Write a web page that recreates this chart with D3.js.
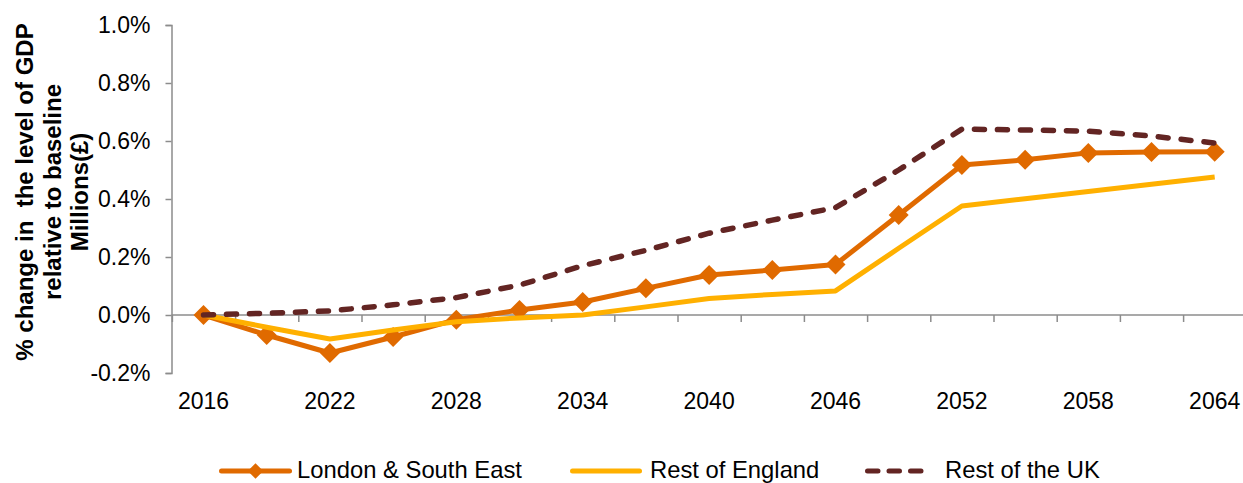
<!DOCTYPE html>
<html>
<head>
<meta charset="utf-8">
<script src="https://cdn.jsdelivr.net/npm/d3@7"></script>
<style>
  html, body { margin: 0; padding: 0; background: #fff; }
  svg { display: block; }
  text { font-family: "Liberation Sans", Arial, sans-serif; fill: #000; }
</style>
</head>
<body>
<svg id="chart" width="1243" height="483"></svg>
<script>
// ---- data ----
const years = [2016, 2019, 2022, 2025, 2028, 2031, 2034, 2037, 2040, 2043, 2046, 2049, 2052, 2055, 2058, 2061, 2064];
const yearLabels = ["2016", "2022", "2028", "2034", "2040", "2046", "2052", "2058", "2064"];
const londonSE = [0, -0.069, -0.131, -0.076, -0.016, 0.017, 0.045, 0.092, 0.138, 0.155, 0.174, 0.345, 0.517, 0.535, 0.559, 0.562, 0.563];
const restEngland = [0, -0.042, -0.083, -0.052, -0.023, -0.01, 0.0, 0.028, 0.057, 0.071, 0.083, 0.23, 0.376, 0.401, 0.426, 0.451, 0.476];
const restUK = [0, 0.006, 0.014, 0.035, 0.06, 0.103, 0.17, 0.223, 0.282, 0.327, 0.37, 0.5, 0.641, 0.638, 0.634, 0.617, 0.593];
const yTicks = [-0.2, 0.0, 0.2, 0.4, 0.6, 0.8, 1.0];
const seriesNames = ["London & South East", "Rest of England", "Rest of the UK"];
const yTitle = ["% change in  the level of GDP", "relative to baseline", "Millions(£)"];

// ---- layout ----
const svg = d3.select("#chart");
const axisX = 171.5;
const step = 63.2;
const x0 = axisX + 0.4;
const x = d3.scaleBand().domain(years).range([x0, x0 + step * years.length]).padding(0);
const cx = d => x(d) + x.bandwidth() / 2;
const y = d3.scaleLinear().domain([-0.2, 1.0]).range([373, 25]);
const axisColor = "#8c8c8c";
const fontFam = "'Liberation Sans', Arial, sans-serif";

const series = [
  { name: seriesNames[0], values: londonSE, color: "#E06A00", dash: null, marker: true, width: 5 },
  { name: seriesNames[1], values: restEngland, color: "#FFB000", dash: null, marker: false, width: 5 },
  { name: seriesNames[2], values: restUK, color: "#632523", dash: "10,13", marker: false, width: 5.5 }
];

// y axis
const yAxis = svg.append("g")
  .attr("transform", `translate(${axisX},0)`)
  .call(d3.axisLeft(y).tickValues(yTicks).tickSize(6).tickPadding(15)
    .tickFormat(d => d.toFixed(1).replace("\u2212", "-") + "%"));
yAxis.select(".domain").attr("stroke", axisColor).attr("stroke-width", 1.5);
yAxis.selectAll(".tick line").attr("stroke", axisColor).attr("stroke-width", 1.5);
yAxis.selectAll("text").style("font-size", "23px").style("font-family", fontFam).attr("fill", "#000");

// x axis line + boundary ticks at zero
const xi = d3.scaleLinear().domain([-0.5, years.length - 0.5]).range([x0, x0 + step * years.length]);
const xAxis = svg.append("g")
  .attr("transform", `translate(0,${y(0)})`)
  .call(d3.axisBottom(xi).tickValues(d3.range(years.length + 1).map(k => k - 0.5)).tickSize(7).tickSizeOuter(0).tickFormat(""));
xAxis.select(".domain").attr("stroke", axisColor).attr("stroke-width", 1.5)
  .attr("d", `M${axisX},0H${x0 + step * years.length}`);
xAxis.selectAll(".tick line").attr("stroke", axisColor).attr("stroke-width", 1.5);

// x labels (low position)
const xLab = svg.append("g")
  .attr("transform", `translate(0,390)`)
  .call(d3.axisBottom(x).tickValues(yearLabels.map(Number)).tickSize(0).tickPadding(3));
xLab.select(".domain").remove();
xLab.selectAll("text").style("font-size", "23px").style("font-family", fontFam).attr("fill", "#000");

// y title
const titleBaselines = [33, 61, 88];
const tg = svg.append("g");
yTitle.forEach((t, i) => {
  tg.append("text")
    .attr("transform", `translate(${titleBaselines[i]},192) rotate(-90)`)
    .attr("text-anchor", "middle")
    .attr("xml:space", "preserve")
    .style("white-space", "pre")
    .style("font-size", "24px")
    .style("font-weight", "bold")
    .text(t);
});

// lines
const line = d3.line().x((d, i) => cx(years[i])).y(d => y(d));
const diamond = d3.symbol().type(d3.symbolSquare);
series.forEach(s => {
  svg.append("path")
    .datum(s.values)
    .attr("d", line)
    .attr("fill", "none")
    .attr("stroke", s.color)
    .attr("stroke-width", s.width)
    .attr("stroke-linejoin", "round")
    .attr("stroke-linecap", s.dash ? "round" : "butt")
    .attr("stroke-dasharray", s.dash);
  if (s.marker) {
    svg.append("g").selectAll("path")
      .data(s.values)
      .join("path")
      .attr("d", diamond.size(200))
      .attr("transform", (d, i) => `translate(${cx(years[i])},${y(d)}) rotate(45)`)
      .attr("fill", s.color);
  }
});

// legend
const legendItems = [
  { x1: 219, x2: 292, tx: 297 },
  { x1: 570, x2: 642, tx: 650 },
  { x1: 865, x2: 928, tx: 945 }
];
const ly = 471;
series.forEach((s, i) => {
  const L = legendItems[i];
  svg.append("line")
    .attr("x1", L.x1 + 2.5).attr("x2", L.x2 - 2.5)
    .attr("y1", ly).attr("y2", ly)
    .attr("stroke", s.color).attr("stroke-width", 5)
    .attr("stroke-linecap", "round")
    .attr("stroke-dasharray", s.dash ? "10.5,11" : null);
  if (s.marker) {
    svg.append("path")
      .attr("d", diamond.size(120))
      .attr("transform", `translate(${(L.x1 + L.x2) / 2},${ly}) rotate(45)`)
      .attr("fill", s.color);
  }
  svg.append("text")
    .attr("x", L.tx).attr("y", 477.5)
    .style("font-size", "23.8px")
    .text(s.name);
});
</script>
</body>
</html>
